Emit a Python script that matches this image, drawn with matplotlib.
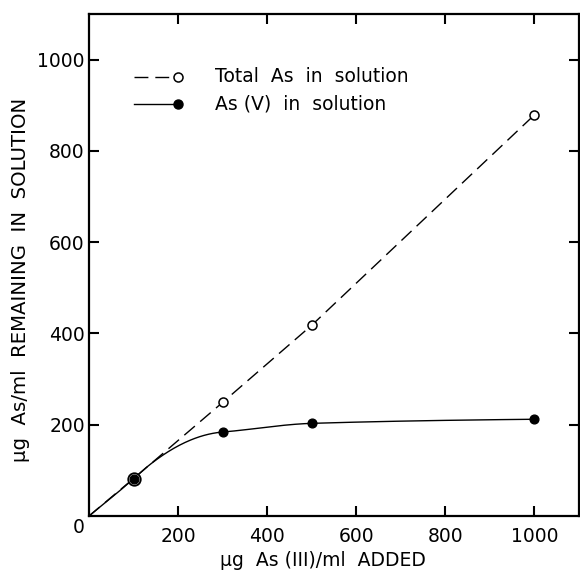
import numpy as np
import matplotlib
matplotlib.use("Agg")
import matplotlib.pyplot as plt

plt.rcParams['font.family'] = ['DejaVu Sans']

# data
added = [0, 100, 300, 500, 1000]
total_as = [0, 82, 249, 418, 879]
as_v = [0, 82, 184, 203, 212]
# slopes of the hand-drawn As(V) curve at each point
as_v_slope = [0.82, 0.9, 0.08, 0.03, 0.01]

x_ticks = [200, 400, 600, 800, 1000]
y_ticks = [200, 400, 600, 800, 1000]


def hermite(x, y, m, xs):
    x = np.asarray(x, float)
    y = np.asarray(y, float)
    m = np.asarray(m, float)
    h = np.diff(x)
    out = np.empty_like(xs)
    for i, xv in enumerate(xs):
        k = min(np.searchsorted(x, xv, side='right') - 1, len(x) - 2)
        t = (xv - x[k]) / h[k]
        h00 = 2 * t**3 - 3 * t**2 + 1
        h10 = t**3 - 2 * t**2 + t
        h01 = -2 * t**3 + 3 * t**2
        h11 = t**3 - t**2
        out[i] = h00 * y[k] + h10 * h[k] * m[k] + h01 * y[k + 1] + h11 * h[k] * m[k + 1]
    return out


fig = plt.figure(figsize=(5.8, 5.76), dpi=100)
ax = fig.add_axes([89 / 580, 1 - 516 / 576, 490 / 580, 502 / 576])

xs = np.linspace(0, 1000, 400)
ax.plot(xs, hermite(added, as_v, as_v_slope, xs), color='black', lw=1.0)
ax.plot(added, total_as, color='black', lw=1.0, dashes=(10, 5))

ax.plot(added[1:], total_as[1:], 'o', ms=6.5, mfc='white', mec='black', mew=1.1)
ax.plot(added[1], total_as[1], 'o', ms=9, mfc='white', mec='black', mew=1.3)
ax.plot(added[1:], as_v[1:], 'o', ms=6.3, color='black')

ax.set_xlim(0, 1100)
ax.set_ylim(0, 1100)
ax.set_xticks(x_ticks)
ax.set_yticks(y_ticks)
ax.tick_params(direction='in', length=7, width=1.5, labelsize=13.5, pad=3,
               top=True, right=True)
ax.tick_params(axis='x', pad=8)
for s in ax.spines.values():
    s.set_linewidth(1.6)

ax.text(-10, -5, '0', ha='right', va='top', fontsize=13.5)

fig.text(323 / 580, 1 - 560 / 576, '\u00b5g  As (III)/ml  ADDED',
         ha='center', va='center', fontsize=13.5)
fig.text(21 / 580, 1 - 280 / 576, '\u00b5g  As/ml  REMAINING  IN  SOLUTION',
         ha='center', va='center', rotation=90, fontsize=14.2)

# legend drawn by hand to keep the marker at the line end
tr = ax.transAxes
ax.plot([0.092, 0.182], [0.875, 0.875], transform=tr, color='black', lw=1.0,
        dashes=(10, 5), clip_on=False)
ax.plot([0.182], [0.875], 'o', transform=tr, ms=6.5, mfc='white', mec='black',
        mew=1.1, clip_on=False)
ax.plot([0.092, 0.182], [0.821, 0.821], transform=tr, color='black', lw=1.0,
        clip_on=False)
ax.plot([0.182], [0.821], 'o', transform=tr, ms=6.5, color='black', clip_on=False)
ax.text(0.257, 0.875, 'Total  As  in  solution', transform=tr, va='center',
        fontsize=13.5)
ax.text(0.257, 0.821, 'As (V)  in  solution', transform=tr, va='center',
        fontsize=13.5)

fig.savefig('out.png', dpi=100)
